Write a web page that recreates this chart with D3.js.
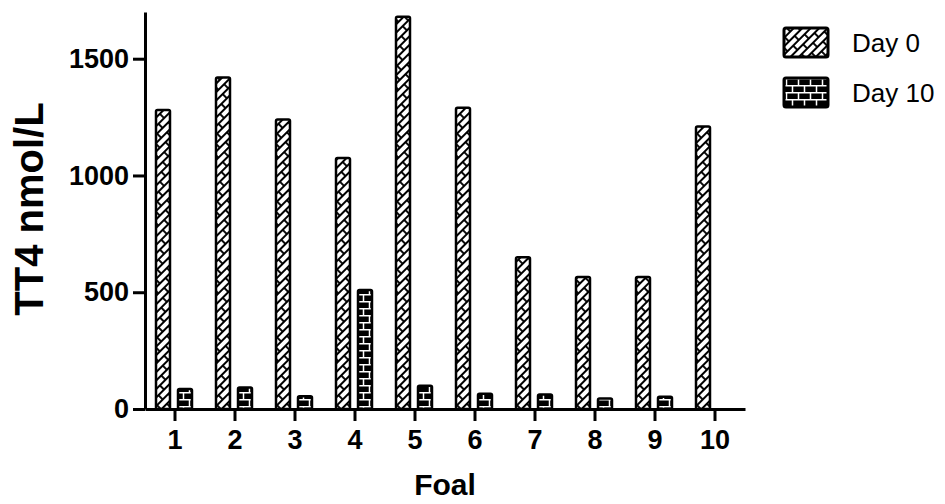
<!DOCTYPE html>
<meta charset="utf-8">
<style>
body {
  margin: 0;
  background: #ffffff;
}
svg {
  display: block;
}
text {
  font-family: 'Liberation Sans', Arial, sans-serif;
  fill: #000000;
}
.axis path, .axis line {
  stroke: #000000;
  stroke-width: 3;
}
.axis text {
  font-size: 27px;
  font-weight: bold;
}
.bar {
  stroke: #000000;
  stroke-width: 2.5;
}
text.title {
  font-weight: bold;
}
text.legend {
  font-size: 26px;
}
</style>
<body>
<svg width="945" height="504"></svg>

<script src="https://d3js.org/d3.v7.min.js"></script>
<script>

    const foals = ['1', '2', '3', '4', '5', '6', '7', '8', '9', '10'];
    const series = ['Day 0', 'Day 10'];
    const day0 = [1280, 1420, 1240, 1075, 1680, 1290, 650, 565, 565, 1210];
    const day10 = [86, 92, 55, 510, 100, 65, 62, 45, 52, null];
    const yTicks = [0, 500, 1000, 1500];

    const svg = d3.select('svg');

    const plotLeft = 145, plotRight = 745, plotTop = 12, plotBottom = 409;

    // patterns: herringbone for day 0, brick for day 10
    const defs = svg.append('defs');

    const herring = defs.append('pattern')
      .attr('id', 'herring')
      .attr('patternUnits', 'userSpaceOnUse')
      .attr('width', 16)
      .attr('height', 12)
      .attr('patternTransform', 'rotate(-45)');
    herring.append('rect').attr('width', 16).attr('height', 12).attr('fill', '#fff');
    herring.append('path')
      .attr('d', 'M0,1H16M0,7H16M2,0V6M10,6V12')
      .attr('stroke', '#000')
      .attr('stroke-width', 1.9)
      .attr('fill', 'none');

    const brick = defs.append('pattern')
      .attr('id', 'brick')
      .attr('patternUnits', 'userSpaceOnUse')
      .attr('width', 12)
      .attr('height', 14);
    brick.append('rect').attr('width', 12).attr('height', 14).attr('fill', '#000');
    brick.append('path')
      .attr('d', 'M0,0.8H12M0,7.8H12M2.5,0V7M8.5,7V14')
      .attr('stroke', '#fff')
      .attr('stroke-width', 1.5)
      .attr('fill', 'none');

    const fills = { 'Day 0': 'url(#herring)', 'Day 10': 'url(#brick)' };

    const x0 = d3.scaleBand()
      .domain(foals)
      .range([plotLeft, plotRight]);

    const x1 = d3.scaleBand()
      .domain(series)
      .range([7, 51])
      .paddingInner(0.364)
      .paddingOuter(0.182);

    const y = d3.scaleLinear()
      .domain([0, 1700])
      .range([plotBottom, plotTop]);

    const rows = foals.map((f, i) => ({
      foal: f,
      values: [
        { key: 'Day 0', value: day0[i] },
        { key: 'Day 10', value: day10[i] }
      ]
    }));

    const groups = svg.append('g')
      .selectAll('g')
      .data(rows)
      .enter()
      .append('g')
      .attr('transform', (d) => `translate(${x0(d.foal)},0)`);

    groups.selectAll('rect')
      .data((d) => d.values.filter((v) => v.value != null))
      .enter()
      .append('rect')
      .attr('class', 'bar')
      .attr('x', (v) => x1(v.key))
      .attr('y', (v) => y(v.value))
      .attr('width', x1.bandwidth())
      .attr('height', (v) => plotBottom - y(v.value))
      .attr('rx', 1.5)
      .attr('fill', (v) => fills[v.key]);

    // axes
    svg.append('g')
      .attr('class', 'axis')
      .attr('transform', `translate(0,${plotBottom})`)
      .call(d3.axisBottom(x0).tickSize(12).tickSizeOuter(0).tickPadding(10))
      .call((g) => g.selectAll('text').attr('dy', '0.71em').attr('y', 21));

    svg.append('g')
      .attr('class', 'axis')
      .attr('transform', `translate(${plotLeft},0)`)
      .call(d3.axisLeft(y).tickValues(yTicks).tickFormat(d3.format('d'))
        .tickSize(12).tickSizeOuter(0).tickPadding(4));

    // axis titles
    svg.append('text')
      .attr('class', 'title')
      .attr('x', 445)
      .attr('y', 495)
      .attr('text-anchor', 'middle')
      .style('font-size', '30px')
      .text('Foal');

    svg.append('text')
      .attr('class', 'title')
      .attr('transform', 'translate(43,209) rotate(-90)')
      .attr('text-anchor', 'middle')
      .style('font-size', '40px')
      .text('TT4 nmol/L');

    // legend
    const legend = svg.append('g')
      .selectAll('g')
      .data(series)
      .enter()
      .append('g')
      .attr('transform', (d, i) => `translate(784,${28 + i * 50})`);

    legend.append('rect')
      .attr('width', 44)
      .attr('height', 29)
      .attr('rx', 2)
      .attr('fill', (d) => fills[d])
      .attr('stroke', '#000')
      .attr('stroke-width', 3);

    legend.append('text')
      .attr('class', 'legend')
      .attr('x', 68)
      .attr('y', 24)
      .text((d) => d);

</script>
</body>
